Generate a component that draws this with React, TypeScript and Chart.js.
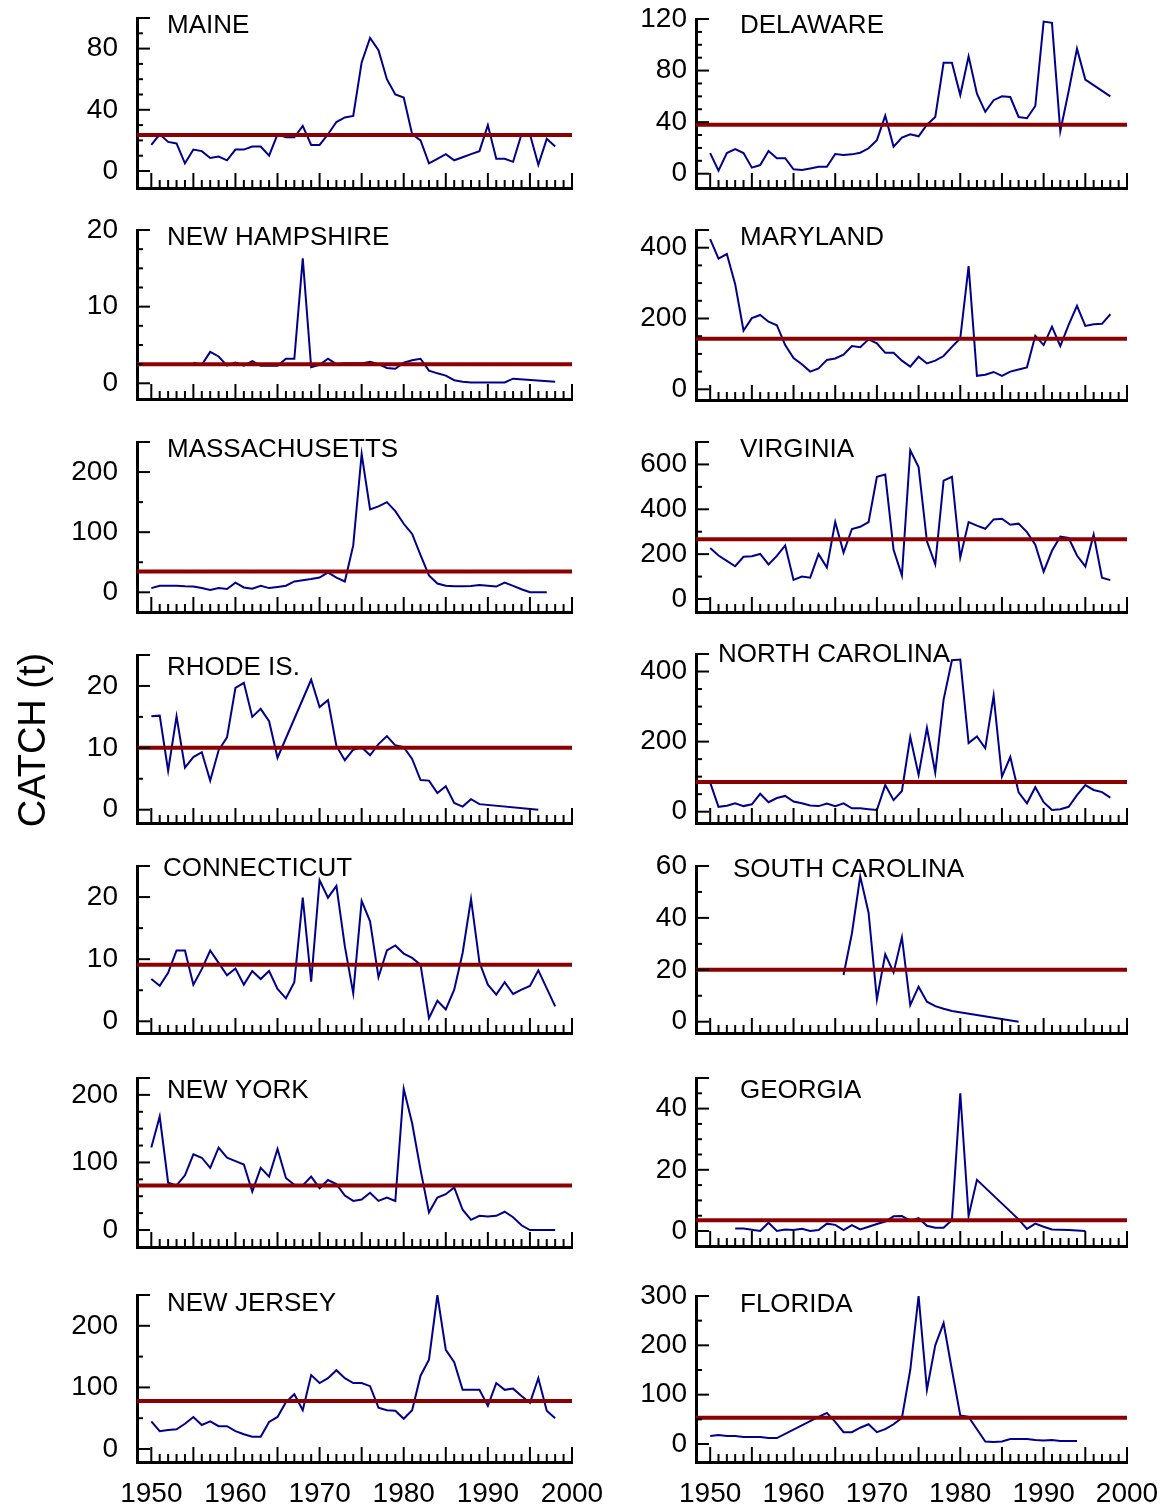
import { useEffect, useRef } from 'react';
import { Chart, registerables } from 'chart.js';

Chart.register(...registerables);

const FONT = '"Liberation Sans", Arial, Helvetica, sans-serif';

// Fishing years shared by all states
const YEARS = Array.from({ length: 49 }, (_, i) => 1950 + i);
const X_LABELS = [1950, 1960, 1970, 1980, 1990, 2000];
const X_MIN = 1948.3;
const X_MAX = 2000;

// Annual catch (t) by state, 1950-1998 (null = no reported catch)
const MAINE = [
  17, 24, 19, 18, 5, 14, 13, 8.5, 9.5, 7,
  14, 14, 16, 16, 10, 24, 22, 22, 29.5, 17,
  17, 24, 32, 35, 36, 71, 87, 79, 60, 50,
  48, 24, 20, 5, 8, 11, 7, 9, 11, 13,
  30, 8, 8, 6, 24, 24, 4, 21, 16,
];
const DELAWARE = [
  16, 2.3, 16, 19, 16, 4.7, 6.7, 17.6, 12, 12,
  3.4, 2.8, 4.1, 5.4, 5.4, 15.3, 14.5, 15, 16.3, 19.7,
  26, 45, 21, 28, 30.5, 29, 38, 44, 86, 86,
  61, 91, 62, 48, 57, 60, 59.5, 44, 43, 52.5,
  118, 117, 33, 64, 97, 73, null, null, 60,
];
const NEW_HAMPSHIRE = [
  null, null, null, null, null, 2.7, 2.4, 4.1, 3.5, 2.3,
  2.7, 2.3, 2.9, 2.3, 2.3, 2.3, 3.2, 3.2, 16.3, 2.1,
  2.4, 3.2, 2.5, 2.6, 2.6, 2.6, 2.8, 2.5, 2.0, 1.9,
  2.7, 3.0, 3.2, 1.65, 1.3, 1.0, 0.4, 0.2, 0.1, 0.1,
  0.1, 0.1, 0.1, 0.6, null, null, null, null, 0.2,
];
const MARYLAND = [
  424, 369, 382, 297, 166, 201, 210, 191, 181, 125,
  88, 71, 50, 59, 83, 87, 98, 122, 119, 141,
  130, 103, 103, 81, 64, 92, 73, 81, 94, 120,
  144, 348, 38, 41, 49, 38, 50, 56, 62, 151,
  125, 177, 122, 182, 236, 179, 184, 185, 212,
];
const MASSACHUSETTS = [
  7, 11, 11, 11, 10, 9.5, 7, 4, 7, 5.6,
  16, 8, 6, 11, 7, 9, 11, 18, 20, 22,
  24.5, 33, 24.5, 18, 78, 230, 138, 143, 150, 135,
  114, 97, 62, 28, 14.5, 11, 10, 10, 10.6, 12,
  11, 9.5, 16, 10.6, 5, 0, 0, 0, null,
];
const VIRGINIA = [
  227, 194, 170, 146, 188, 191, 201, 154, 192, 239,
  85, 100, 95, 200, 140, 343, 207, 312, 322, 343,
  545, 555, 219, 105, 663, 588, 257, 155, 528, 545,
  185, 343, 327, 313, 355, 358, 331, 336, 298, 242,
  122, 215, 278, 272, 194, 145, 287, 95, 84,
];
const RHODE_ISLAND = [
  15.1, 15.2, 6.3, 15.1, 6.8, 8.5, 9.3, 4.7, 9.6, 11.7,
  19.7, 20.5, 15, 16.3, 14.3, 8.4, null, null, null, 21,
  16.6, 17.7, 10.3, 8, 9.7, 10.1, 8.8, 10.6, 11.9, 10.4,
  10.1, 8.2, 4.8, 4.7, 2.7, 3.8, 1.1, 0.5, 1.7, 0.9,
  null, null, null, null, null, null, 0, null, null,
];
const NORTH_CAROLINA = [
  83, 14, 17, 24, 16, 21, 51, 27, 39, 45,
  29, 24, 18, 16, 23, 16, 24, 9.5, 9.5, 7,
  5, 76, 33, 59, 213, 105, 239, 112, 320, 432,
  434, 196, 215, 181, 331, 100, 156, 55, 24, 70,
  27, 5, 7, 14, 47, 76, 62, 56, 40,
];
const CONNECTICUT = [
  6.8, 5.7, 7.8, 11.4, 11.4, 5.9, 8.4, 11.4, 9.4, 7.4,
  8.5, 5.9, 8.1, 6.8, 8.1, 5.2, 3.7, 6.3, 19.9, 6.4,
  22.7, 19.9, 21.8, 12.1, 4.5, 19.4, 16.1, 7.1, 11.4, 12.2,
  10.9, 10.2, 9.1, 0.5, 3.3, 1.9, 5.1, 11, 19.7, 9.5,
  5.9, 4.3, 6.3, 4.4, 5.1, 5.7, 8.2, null, 2.4,
];
const SOUTH_CAROLINA = [
  null, null, null, null, null, null, null, null, null, null,
  null, null, null, null, null, null, 18, 34, 56, 42,
  8.6, 26, 19, 32.5, 6.4, 13.5, 7.7, 6, 5, 4.1,
  null, null, null, null, null, null, null, 0, null, null,
  null, null, null, null, null, null, null, null, null,
];
const NEW_YORK = [
  122, 168, 70, 66, 81, 112, 107, 92, 122, 107,
  102, 97, 57, 92, 79, 120, 77, 67, 66, 79,
  62, 74, 68, 51, 43, 45, 55, 43, 48, 43,
  209, 158, 89, 26, 48, 53, 63, 30, 15, 21,
  20, 21, 27, 19, 7, 0, 0, 0, 0,
];
const GEORGIA = [
  null, null, null, 0.8, 0.8, 0.4, 0, 2.7, 0, 0.5,
  0.3, 0.7, 0, 0.3, 2.4, 2.0, 0.3, 1.9, 0.5, 1.4,
  2.3, 3.1, 4.8, 4.9, 3.4, 4.2, 1.7, 1.1, 1.1, 3.6,
  45, 4.9, 16.7, null, null, null, null, 3.8, 0.7, 2.4,
  1.4, 0.5, null, 0.3, null, 0, null, null, null,
];
const NEW_JERSEY = [
  45, 29, 31, 32, 41, 52, 39, 45, 37, 37,
  29, 24, 20, 20, 44, 52, 76, 89, 63, 120,
  107, 115, 128, 115, 107, 107, 102, 67, 63, 62,
  49, 63, 119, 145, 250, 161, 141, 96, 96, 96,
  70, 107, 96, 98, 86, 75, 115, 62, 50,
];
const FLORIDA = [
  16, 18, 16, 16, 14, 14, 14, 12, 12, null,
  null, null, null, 55, 63, 45, 24, 24, 33, 40,
  24, 30, 40, 53, 150, 300, 110, 200, 245, 150,
  58, 55, 30, 5, 4, 5, 10, 10, 10, 8,
  7, 8, 6, 6, 6, null, null, null, null,
];

// Long-term mean catch per state (t)
const MEANS = {
  MAINE: 23.6, DELAWARE: 38, NEW_HAMPSHIRE: 2.5, MARYLAND: 143,
  MASSACHUSETTS: 34.6, VIRGINIA: 266, RHODE_ISLAND: 10, NORTH_CAROLINA: 85,
  CONNECTICUT: 9.1, SOUTH_CAROLINA: 20, NEW_YORK: 66, GEORGIA: 3.5,
  NEW_JERSEY: 78, FLORIDA: 53,
};

// Column geometry (page pixels)
const COLS = [
  { canvasLeft: 0, axisLeft: 137, axisRight: 572, labelPad: 19 },
  { canvasLeft: 600, axisLeft: 696, axisRight: 1127, labelPad: 9 },
];
const PAD_TOP = 32;
const PAD_RIGHT = 40;
const X_LABEL_BAND = 50;

type Panel = {
  title: string;
  values: (number | null)[];
  mean: number;
  yMax: number;
  yLabels: number[];
  yMinor: number;
  col: number;
  top: number;
  zero: number;
  bottom: number;
  titleX: number;
  titleBase: number;
  showX: boolean;
};

const PANELS: Panel[] = [
  { title: 'MAINE', values: MAINE, mean: MEANS.MAINE, yMax: 100, yLabels: [0, 40, 80], yMinor: 10, col: 0, top: 18, zero: 171, bottom: 188, titleX: 167, titleBase: 33, showX: false },
  { title: 'DELAWARE', values: DELAWARE, mean: MEANS.DELAWARE, yMax: 120, yLabels: [0, 40, 80, 120], yMinor: 10, col: 1, top: 19, zero: 173.7, bottom: 188, titleX: 740, titleBase: 33, showX: false },
  { title: 'NEW HAMPSHIRE', values: NEW_HAMPSHIRE, mean: MEANS.NEW_HAMPSHIRE, yMax: 20, yLabels: [0, 10, 20], yMinor: 2.5, col: 0, top: 230, zero: 383.3, bottom: 399, titleX: 167, titleBase: 245, showX: false },
  { title: 'MARYLAND', values: MARYLAND, mean: MEANS.MARYLAND, yMax: 450, yLabels: [0, 200, 400], yMinor: 50, col: 1, top: 230, zero: 389.3, bottom: 400, titleX: 740, titleBase: 245, showX: false },
  { title: 'MASSACHUSETTS', values: MASSACHUSETTS, mean: MEANS.MASSACHUSETTS, yMax: 250, yLabels: [0, 100, 200], yMinor: 50, col: 0, top: 442, zero: 592.3, bottom: 612, titleX: 167, titleBase: 457, showX: false },
  { title: 'VIRGINIA', values: VIRGINIA, mean: MEANS.VIRGINIA, yMax: 700, yLabels: [0, 200, 400, 600], yMinor: 100, col: 1, top: 442, zero: 599, bottom: 612, titleX: 740, titleBase: 457, showX: false },
  { title: 'RHODE IS.', values: RHODE_ISLAND, mean: MEANS.RHODE_ISLAND, yMax: 25, yLabels: [0, 10, 20], yMinor: 5, col: 0, top: 655, zero: 809.7, bottom: 823, titleX: 167, titleBase: 675, showX: false },
  { title: 'NORTH CAROLINA', values: NORTH_CAROLINA, mean: MEANS.NORTH_CAROLINA, yMax: 450, yLabels: [0, 200, 400], yMinor: 50, col: 1, top: 654, zero: 811.7, bottom: 823, titleX: 718, titleBase: 662, showX: false },
  { title: 'CONNECTICUT', values: CONNECTICUT, mean: MEANS.CONNECTICUT, yMax: 25, yLabels: [0, 10, 20], yMinor: 5, col: 0, top: 866, zero: 1021.3, bottom: 1033, titleX: 163, titleBase: 876, showX: false },
  { title: 'SOUTH CAROLINA', values: SOUTH_CAROLINA, mean: MEANS.SOUTH_CAROLINA, yMax: 60, yLabels: [0, 20, 40, 60], yMinor: 10, col: 1, top: 866, zero: 1021.7, bottom: 1033, titleX: 733, titleBase: 877, showX: false },
  { title: 'NEW YORK', values: NEW_YORK, mean: MEANS.NEW_YORK, yMax: 225, yLabels: [0, 100, 200], yMinor: 25, col: 0, top: 1078, zero: 1230, bottom: 1247, titleX: 167, titleBase: 1098, showX: false },
  { title: 'GEORGIA', values: GEORGIA, mean: MEANS.GEORGIA, yMax: 50, yLabels: [0, 20, 40], yMinor: 5, col: 1, top: 1078, zero: 1231, bottom: 1246, titleX: 740, titleBase: 1098, showX: false },
  { title: 'NEW JERSEY', values: NEW_JERSEY, mean: MEANS.NEW_JERSEY, yMax: 250, yLabels: [0, 100, 200], yMinor: 50, col: 0, top: 1295, zero: 1449, bottom: 1462, titleX: 167, titleBase: 1311, showX: true },
  { title: 'FLORIDA', values: FLORIDA, mean: MEANS.FLORIDA, yMax: 300, yLabels: [0, 100, 200, 300], yMinor: 50, col: 1, top: 1296, zero: 1444, bottom: 1462, titleX: 740, titleBase: 1312, showX: true },
];

// Inward tick marks on both axes plus the state name inside the panel
const panelDecor = {
  id: 'panelDecor',
  afterDraw(chart: any, _args: any, o: any) {
    const { ctx, chartArea } = chart;
    const xs = chart.scales.x;
    const ys = chart.scales.y;
    ctx.save();
    ctx.strokeStyle = '#000';
    ctx.lineWidth = 2;
    ctx.lineCap = 'butt';
    const n = Math.round(o.yMax / o.yMinor);
    for (let i = 0; i <= n; i++) {
      const v = i * o.yMinor;
      const py = ys.getPixelForValue(v);
      const major = o.yLabels.includes(v) || i === n;
      ctx.beginPath();
      ctx.moveTo(chartArea.left, py);
      ctx.lineTo(chartArea.left + (major ? 13 : 6), py);
      ctx.stroke();
    }
    for (let yr = 1950; yr <= 2000; yr++) {
      const px = xs.getPixelForValue(yr);
      const major = yr % 5 === 0;
      ctx.beginPath();
      ctx.moveTo(px, chartArea.bottom);
      ctx.lineTo(px, chartArea.bottom - (major ? 15 : 8));
      ctx.stroke();
    }
    ctx.fillStyle = '#000';
    ctx.font = `26px ${FONT}`;
    ctx.textBaseline = 'alphabetic';
    ctx.textAlign = 'left';
    ctx.fillText(o.title, o.titleX, o.titleY);
    ctx.restore();
  },
};

function StatePanel({ p }: { p: Panel }) {
  const ref = useRef<HTMLCanvasElement>(null);
  const col = COLS[p.col];
  const xBand = p.showX ? X_LABEL_BAND : 0;
  const padBottom = p.showX ? 0 : 8;
  const canvasTop = p.top - PAD_TOP;
  const width = col.axisRight + PAD_RIGHT - col.canvasLeft;
  const height = PAD_TOP + (p.bottom - p.top) + xBand + padBottom;
  const yMin = -((p.bottom - p.zero) * p.yMax) / (p.zero - p.top);

  useEffect(() => {
    if (!ref.current) return;
    const lineData = YEARS.map((yr, i) => ({ x: yr, y: p.values[i] }));
    const chart = new Chart(ref.current, {
      type: 'line',
      data: {
        datasets: [
          {
            data: [{ x: X_MIN, y: p.mean }, { x: X_MAX, y: p.mean }],
            borderColor: '#8B0000',
            borderWidth: 4,
            pointRadius: 0,
            order: 0,
          },
          {
            data: lineData as any,
            borderColor: '#00008B',
            borderWidth: 2,
            pointRadius: 0,
            tension: 0,
            spanGaps: true,
            order: 1,
          },
        ],
      },
      options: {
        responsive: false,
        animation: false,
        events: [],
        layout: { padding: { left: 0, top: PAD_TOP, right: PAD_RIGHT, bottom: padBottom } },
        plugins: {
          legend: { display: false },
          tooltip: { enabled: false },
          panelDecor: {
            yMax: p.yMax,
            yMinor: p.yMinor,
            yLabels: p.yLabels,
            title: p.title,
            titleX: p.titleX - col.canvasLeft,
            titleY: p.titleBase - canvasTop,
          },
        } as any,
        scales: {
          x: {
            type: 'linear',
            min: X_MIN,
            max: X_MAX,
            grid: { display: false, drawTicks: false },
            border: { display: true, color: '#000', width: 3 },
            ticks: {
              display: p.showX,
              color: '#000',
              font: { size: 28, family: FONT },
              padding: 15,
              maxRotation: 0,
              autoSkip: false,
              callback: (v: any) => String(v),
            },
            afterBuildTicks: (s: any) => {
              s.ticks = X_LABELS.map((v) => ({ value: v }));
            },
            afterFit: (s: any) => {
              s.height = xBand;
              s.paddingLeft = 0;
              s.paddingRight = 0;
            },
          },
          y: {
            type: 'linear',
            min: yMin,
            max: p.yMax,
            grid: { display: false, drawTicks: false },
            border: { display: true, color: '#000', width: 3 },
            ticks: {
              color: '#000',
              font: { size: 28, family: FONT },
              padding: col.labelPad,
              callback: (v: any) => String(v),
            },
            afterBuildTicks: (s: any) => {
              s.ticks = p.yLabels.map((v) => ({ value: v }));
            },
            afterFit: (s: any) => {
              s.width = col.axisLeft - col.canvasLeft;
              s.paddingTop = 0;
              s.paddingBottom = 0;
            },
          },
        },
      },
      plugins: [panelDecor],
    });
    return () => chart.destroy();
  }, [p]);

  return (
    <canvas
      ref={ref}
      width={width}
      height={height}
      style={{ position: 'absolute', left: col.canvasLeft, top: canvasTop, width, height }}
    />
  );
}

export default function App() {
  return (
    <div style={{ position: 'absolute', left: 0, top: 0, width: 1171, height: 1512, background: '#fff', overflow: 'hidden' }}>
      {PANELS.map((p) => (
        <StatePanel key={p.title} p={p} />
      ))}
      <div
        style={{
          position: 'absolute',
          left: 32 - 150,
          top: 740 - 22,
          width: 300,
          height: 44,
          lineHeight: '44px',
          textAlign: 'center',
          fontFamily: FONT,
          fontSize: 38,
          color: '#000',
          transform: 'rotate(-90deg)',
          whiteSpace: 'nowrap',
        }}
      >
        CATCH (t)
      </div>
    </div>
  );
}
